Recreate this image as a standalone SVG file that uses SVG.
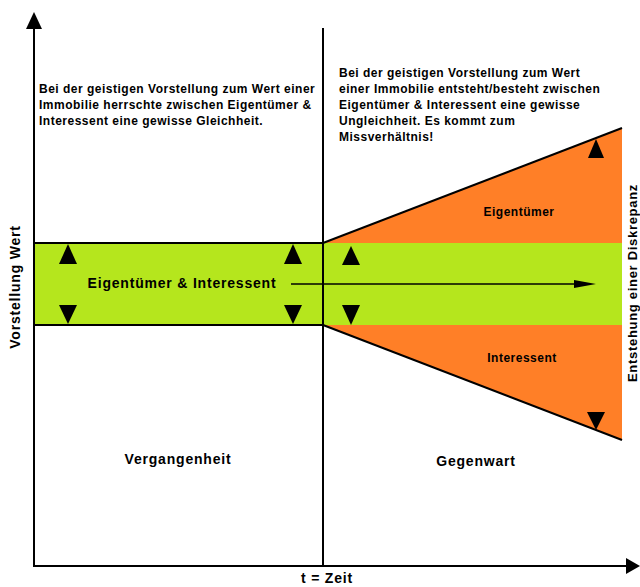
<svg xmlns="http://www.w3.org/2000/svg" width="640" height="587" viewBox="0 0 640 587">
<style>
text{font-family:"Liberation Sans",Arial,sans-serif;font-weight:bold;fill:#000}
.t11{font-size:12px;letter-spacing:0.5px}
.t13{font-size:14px;letter-spacing:0.8px}
.tv{font-size:13px;letter-spacing:0.7px}
.ln{stroke:#000;stroke-width:2;fill:none}
.tri{fill:#000}
</style>
<rect width="640" height="587" fill="#fff"/>

<g id="band">
<rect x="34" y="243" width="588" height="82" fill="#b5e61d"/>
</g>
<g id="eigentuemer">
<polygon points="323,243 622,128 622,243" fill="#ff7f27"/>
<text class="t11" x="519" y="216" text-anchor="middle">Eigentümer</text>
</g>
<g id="interessent">
<polygon points="323,325 622,440 622,325" fill="#ff7f27"/>
<text class="t11" x="522" y="362" text-anchor="middle">Interessent</text>
</g>

<g id="connectors">
<line class="ln" x1="34" y1="566" x2="34" y2="26"/>
<polygon class="tri" points="34,12 26,29 42,29"/>
<line class="ln" x1="33" y1="566" x2="628" y2="566"/>
<polygon class="tri" points="640,566 626,558 626,574"/>
<line class="ln" x1="323" y1="28" x2="323" y2="566"/>
<line class="ln" x1="34" y1="243" x2="323" y2="243"/>
<line class="ln" x1="34" y1="325" x2="323" y2="325"/>
<line class="ln" x1="323" y1="243" x2="622" y2="128"/>
<line class="ln" x1="323" y1="325" x2="622" y2="440"/>
<line x1="291" y1="284" x2="574" y2="284" stroke="#000" stroke-width="1.5"/>
<polygon class="tri" points="596,284 574,280 574,288"/>
<polygon class="tri" points="68,244 59,264 77,264"/>
<polygon class="tri" points="68,324 59,305 77,305"/>
<polygon class="tri" points="293,244 284,264 302,264"/>
<polygon class="tri" points="293,324 284,305 302,305"/>
<polygon class="tri" points="351,246 342,265 360,265"/>
<polygon class="tri" points="351,325 342,305 360,305"/>
<polygon class="tri" points="596,139 588,158 604,158"/>
<polygon class="tri" points="596,430 587,412 605,412"/>
</g>

<g id="label-band">
<text class="t13" x="182" y="288" text-anchor="middle">Eigentümer &amp; Interessent</text>
</g>
<g id="text-left">
<text class="t11" x="39" y="93">Bei der geistigen Vorstellung zum Wert einer</text>
<text class="t11" x="39" y="109">Immobilie herrschte zwischen Eigentümer &amp;</text>
<text class="t11" x="39" y="125">Interessent eine gewisse Gleichheit.</text>
</g>
<g id="text-right">
<text class="t11" x="339" y="77">Bei der geistigen Vorstellung zum Wert</text>
<text class="t11" x="339" y="93">einer Immobilie entsteht/besteht zwischen</text>
<text class="t11" x="339" y="109">Eigentümer &amp; Interessent eine gewisse</text>
<text class="t11" x="339" y="125">Ungleichheit. Es kommt zum</text>
<text class="t11" x="339" y="141">Missverhältnis!</text>
</g>
<g id="vergangenheit">
<text class="t13" x="178" y="464" text-anchor="middle">Vergangenheit</text>
</g>
<g id="gegenwart">
<text class="t13" x="476" y="466" text-anchor="middle">Gegenwart</text>
</g>
<g id="axis-labels">
<text class="t13" x="327" y="583" text-anchor="middle">t = Zeit</text>
<text class="t13" transform="translate(20,287) rotate(-90)" text-anchor="middle">Vorstellung Wert</text>
<text class="tv" transform="translate(637,283) rotate(-90)" text-anchor="middle">Entstehung einer Diskrepanz</text>
</g>
</svg>
